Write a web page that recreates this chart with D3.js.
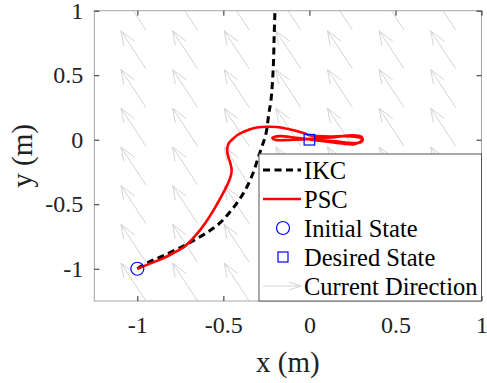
<!DOCTYPE html>
<html>
<head>
<meta charset="utf-8">
<script src="https://cdn.jsdelivr.net/npm/d3@7"></script>
<style>
  body { margin: 0; background: #fff; }
  svg { display: block; }
</style>
</head>
<body>
<script>
// axis ticks
const xTicks = [-1, -0.5, 0, 0.5, 1];
const yTicks = [-1, -0.5, 0, 0.5, 1];

// current field grid and direction
const gridX = [-1.25, -0.95, -0.65, -0.35, -0.05, 0.25, 0.55, 0.85];
const gridY = [-1.25, -0.95, -0.65, -0.35, -0.05, 0.25, 0.55, 0.85];
const currentU = -0.145;
const currentV = 0.294;

// IKC path (x, y)
const ikc = [
  [-1, -1], [-0.936, -0.95], [-0.85, -0.9], [-0.713, -0.81], [-0.596, -0.72],
  [-0.52, -0.645], [-0.46, -0.557], [-0.405, -0.46], [-0.362, -0.363],
  [-0.325, -0.25], [-0.298, -0.139], [-0.275, -0.05], [-0.252, 0.05],
  [-0.236, 0.2], [-0.223, 0.31], [-0.21, 0.56], [-0.205, 0.8], [-0.2, 1.0]
];

// PSC path (x, y)
const psc = [
  [-1, -1], [-0.93, -0.962], [-0.86, -0.925], [-0.79, -0.878], [-0.723, -0.825],
  [-0.66, -0.74], [-0.605, -0.645], [-0.55, -0.53], [-0.5, -0.41],
  [-0.47, -0.33], [-0.455, -0.27], [-0.452, -0.232], [-0.46, -0.18],
  [-0.472, -0.13], [-0.478, -0.08], [-0.47, -0.03], [-0.45, 0.0],
  [-0.42, 0.035], [-0.385, 0.06], [-0.345, 0.082], [-0.305, 0.095],
  [-0.245, 0.1], [-0.19, 0.098], [-0.13, 0.085], [-0.08, 0.07],
  [-0.03, 0.05], [0.0, 0.035], [0.05, 0.028], [0.12, 0.025], [0.2, 0.028],
  [0.27, 0.022], [0.31, 0.005], [0.3, -0.018], [0.25, -0.025], [0.15, -0.012],
  [0.05, -0.002], [0.0, 0.004], [-0.08, 0.015], [-0.17, 0.028], [-0.215, 0.015],
  [-0.2, 0.0], [-0.12, -0.002], [-0.04, 0.002], [0.05, 0.012], [0.15, 0.02],
  [0.25, 0.035], [0.305, 0.02], [0.3, -0.01], [0.26, -0.035], [0.2, -0.03],
  [0.12, -0.018], [0.04, -0.005], [0.0, 0.0]
];

const initialState = [-1, -1];
const desiredState = [0, 0];

const legendItems = ["IKC", "PSC", "Initial State", "Desired State", "Current Direction"];

const serif = "'Liberation Serif', 'Times New Roman', Times, 'DejaVu Serif', serif";
const w = 487, h = 383;
const pLeft = 94.3, pRight = 481.5, pTop = 10.7, pBottom = 301;

const x = d3.scaleLinear().domain([-1.25, 1]).range([pLeft, pRight]);
const y = d3.scaleLinear().domain([-1.25, 1]).range([pBottom, pTop]);

const svg = d3.select("body").append("svg")
  .attr("width", w)
  .attr("height", h)
  .attr("font-family", serif);

svg.append("clipPath").attr("id", "clip")
  .append("rect")
  .attr("x", pLeft).attr("y", pTop)
  .attr("width", pRight - pLeft).attr("height", pBottom - pTop);

const plot = svg.append("g").attr("clip-path", "url(#clip)");

// quiver arrows, MATLAB style heads
const a = 0.33, b = 0.33;
const arrows = [];
gridX.forEach(gx => gridY.forEach(gy => arrows.push([gx, gy])));

const arrowG = plot.append("g")
  .attr("stroke", "#d4d4d4")
  .attr("stroke-width", 1)
  .attr("fill", "none");

arrows.forEach(([gx, gy]) => {
  const hx = gx + currentU, hy = gy + currentV;
  const b1 = [hx - a * (currentU + b * currentV), hy - a * (currentV - b * currentU)];
  const b2 = [hx - a * (currentU - b * currentV), hy - a * (currentV + b * currentU)];
  arrowG.append("line")
    .attr("x1", x(gx)).attr("y1", y(gy))
    .attr("x2", x(hx)).attr("y2", y(hy));
  arrowG.append("polyline")
    .attr("points", [b1, [hx, hy], b2].map(p => x(p[0]) + "," + y(p[1])).join(" "));
});

const line = d3.line().x(d => x(d[0])).y(d => y(d[1])).curve(d3.curveCatmullRom);

plot.append("path")
  .datum(ikc)
  .attr("d", line)
  .attr("fill", "none")
  .attr("stroke", "#000")
  .attr("stroke-width", 3)
  .attr("stroke-dasharray", "7,4.5");

plot.append("path")
  .datum(psc)
  .attr("d", line)
  .attr("fill", "none")
  .attr("stroke", "#ff0000")
  .attr("stroke-width", 2.6)
  .attr("stroke-linejoin", "round");

plot.append("circle")
  .attr("cx", x(initialState[0])).attr("cy", y(initialState[1]))
  .attr("r", 6.5)
  .attr("fill", "none").attr("stroke", "#0000ff").attr("stroke-width", 1.2);

plot.append("rect")
  .attr("x", x(desiredState[0]) - 5.3).attr("y", y(desiredState[1]) - 5.3)
  .attr("width", 10.6).attr("height", 10.6)
  .attr("fill", "none").attr("stroke", "#0000ff").attr("stroke-width", 1.2);

// axes box
svg.append("rect")
  .attr("x", pLeft).attr("y", pTop)
  .attr("width", pRight - pLeft).attr("height", pBottom - pTop)
  .attr("fill", "none").attr("stroke", "#a6a6a6").attr("stroke-width", 1);

const fmt = d => String(d);

function styleAxis(g) {
  g.attr("font-family", serif);
  g.select(".domain").remove();
  g.selectAll(".tick line").attr("stroke", "#262626");
  g.selectAll(".tick text").attr("font-size", 24).attr("fill", "#222");
}

svg.append("g")
  .attr("transform", `translate(0,${pBottom})`)
  .call(d3.axisBottom(x).tickValues(xTicks).tickFormat(fmt).tickSize(-5).tickPadding(15))
  .call(styleAxis);

svg.append("g")
  .attr("transform", `translate(0,${pTop})`)
  .call(d3.axisTop(x).tickValues(xTicks).tickFormat("").tickSize(-5))
  .call(styleAxis);

svg.append("g")
  .attr("transform", `translate(${pLeft},0)`)
  .call(d3.axisLeft(y).tickValues(yTicks).tickFormat(fmt).tickSize(-5).tickPadding(11))
  .call(styleAxis);

svg.append("g")
  .attr("transform", `translate(${pRight},0)`)
  .call(d3.axisRight(y).tickValues(yTicks).tickFormat("").tickSize(-5))
  .call(styleAxis);

// axis titles
svg.append("text")
  .attr("x", (pLeft + pRight) / 2).attr("y", 372)
  .attr("text-anchor", "middle")
  .attr("font-size", 29)
  .attr("fill", "#222")
  .text("x (m)");

svg.append("text")
  .attr("transform", `translate(32,${(pTop + pBottom) / 2}) rotate(-90)`)
  .attr("text-anchor", "middle")
  .attr("font-size", 29)
  .attr("fill", "#222")
  .text("y (m)");

// legend
const lg = svg.append("g");
const lx = 259, ly = 154;
lg.append("rect")
  .attr("x", lx).attr("y", ly)
  .attr("width", pRight - lx).attr("height", pBottom - ly)
  .attr("fill", "#fff").attr("stroke", "#555").attr("stroke-width", 1);

const rowY = i => 170 + i * 29;
const s1 = 263, s2 = 301, sm = 283;

lg.append("line").attr("x1", s1).attr("x2", s2).attr("y1", rowY(0)).attr("y2", rowY(0))
  .attr("stroke", "#000").attr("stroke-width", 3).attr("stroke-dasharray", "7,4.5");
lg.append("line").attr("x1", s1).attr("x2", s2).attr("y1", rowY(1)).attr("y2", rowY(1))
  .attr("stroke", "#ff0000").attr("stroke-width", 2.6);
lg.append("circle").attr("cx", sm).attr("cy", rowY(2)).attr("r", 6.5)
  .attr("fill", "none").attr("stroke", "#0000ff").attr("stroke-width", 1.2);
lg.append("rect").attr("x", sm - 5).attr("y", rowY(3) - 5).attr("width", 10).attr("height", 10)
  .attr("fill", "none").attr("stroke", "#0000ff").attr("stroke-width", 1.2);
lg.append("line").attr("x1", s1).attr("x2", s2).attr("y1", rowY(4)).attr("y2", rowY(4))
  .attr("stroke", "#d4d4d4").attr("stroke-width", 1);
lg.append("polyline")
  .attr("points", `${s2 - 12},${rowY(4) - 4} ${s2},${rowY(4)} ${s2 - 12},${rowY(4) + 4}`)
  .attr("fill", "none").attr("stroke", "#d4d4d4").attr("stroke-width", 1);

lg.selectAll("text.leg")
  .data(legendItems)
  .enter()
  .append("text")
  .attr("class", "leg")
  .attr("x", 304)
  .attr("y", (d, i) => rowY(i) + 8.5)
  .attr("font-size", 24.5)
  .attr("fill", "#000")
  .text(d => d);
</script>
</body>
</html>
